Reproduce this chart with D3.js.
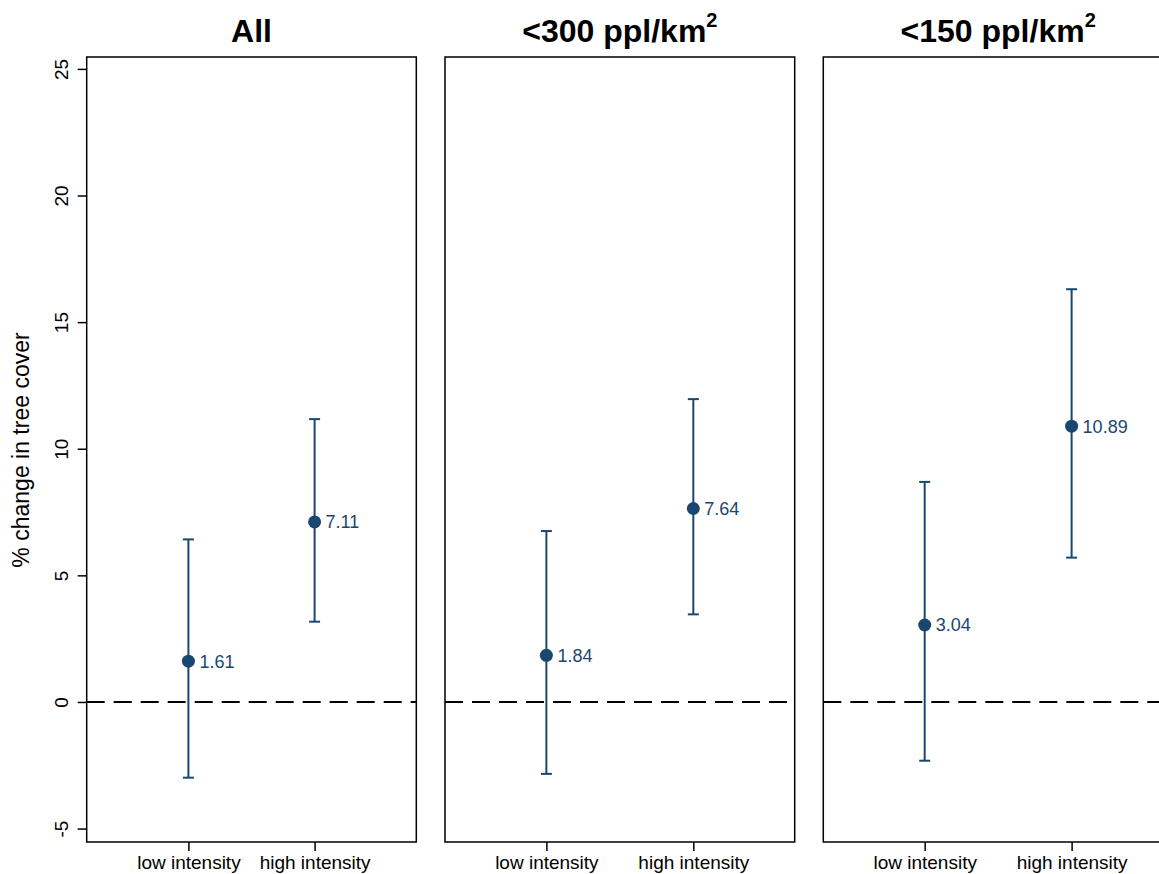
<!DOCTYPE html>
<html>
<head>
<meta charset="utf-8">
<script src="https://cdn.jsdelivr.net/npm/d3@7"></script>
<style>
  html, body { margin: 0; padding: 0; background: #fff; }
  svg { display: block; font-family: "Liberation Sans", Arial, sans-serif; }
</style>
</head>
<body>
<svg id="chart" width="1159" height="874"></svg>
<script>
// Treatment effect estimates with 95% confidence intervals, by population-density subsample
const categories = ["low intensity", "high intensity"];
const panelNames = ["All", "<300 ppl/km", "<150 ppl/km"];
const panelSuper = ["", "2", "2"];
const estimates = [[1.61, 7.11], [1.84, 7.64], [3.04, 10.89]];
const ciLower = [[-2.99, 3.17], [-2.84, 3.46], [-2.32, 5.70]];
const ciUpper = [[6.42, 11.17], [6.75, 11.96], [8.69, 16.30]];
const yTicks = [-5, 0, 5, 10, 15, 20, 25];
const yTitle = "% change in tree cover";

// Layout of the three panels (left edge, width, outer padding of the category scale)
const panelLeft = [86.7, 445, 823.3];
const panelWidth = [329.6, 349.7, 349.7];
const panelPad = [0.806, 0.69, 0.69];
const plotTop = 57, plotBottom = 842;

const navy = "#1a476f";
const svg = d3.select("#chart");

const y = d3.scaleLinear().domain([-5.53, 25.47]).range([plotBottom, plotTop]);

panelNames.forEach((name, i) => {
  const left = panelLeft[i], right = left + panelWidth[i];
  const x = d3.scalePoint().domain(categories).range([left, right]).padding(panelPad[i]);
  const g = svg.append("g");

  // zero reference line
  g.append("line")
    .attr("x1", left).attr("x2", right)
    .attr("y1", y(0)).attr("y2", y(0))
    .attr("stroke", "#000").attr("stroke-width", 2)
    .attr("stroke-dasharray", "18,9");

  // x axis with category ticks
  const xAxis = g.append("g")
    .attr("transform", `translate(0,${plotBottom})`)
    .call(d3.axisBottom(x).tickSize(9).tickPadding(4.5).tickSizeOuter(0));
  xAxis.select(".domain").remove();
  xAxis.selectAll(".tick line").attr("stroke", "#000").attr("stroke-width", 1.5);
  xAxis.selectAll(".tick text")
    .attr("fill", "#000").style("font-size", "19px")
    .style("font-family", "'Liberation Sans', Arial, sans-serif");

  // y axis on the first panel only
  if (i === 0) {
    const yAxis = g.append("g")
      .attr("transform", `translate(${left},0)`)
      .call(d3.axisLeft(y).tickValues(yTicks).tickSize(9).tickSizeOuter(0).tickFormat(d => String(d)));
    yAxis.select(".domain").remove();
    yAxis.selectAll(".tick line").attr("stroke", "#000").attr("stroke-width", 1.5);
    yAxis.selectAll(".tick text")
      .attr("x", null).attr("dy", null)
      .attr("transform", "translate(-18.5,0) rotate(-90)")
      .attr("text-anchor", "middle")
      .attr("fill", "#000").style("font-size", "19px")
      .style("font-family", "'Liberation Sans', Arial, sans-serif");

    svg.append("text")
      .attr("transform", `translate(29,450) rotate(-90)`)
      .attr("text-anchor", "middle")
      .style("font-size", "23px")
      .attr("fill", "#000")
      .text(yTitle);
  }

  // confidence intervals
  const rows = categories.map((c, j) => ({
    cat: c, est: estimates[i][j], lo: ciLower[i][j], hi: ciUpper[i][j]
  }));
  const capHalf = 5.5;
  const bars = g.selectAll(".ci").data(rows).enter().append("g").attr("class", "ci")
    .attr("stroke", navy).attr("stroke-width", 2);
  bars.append("line")
    .attr("x1", d => x(d.cat)).attr("x2", d => x(d.cat))
    .attr("y1", d => y(d.lo)).attr("y2", d => y(d.hi));
  bars.append("line")
    .attr("x1", d => x(d.cat) - capHalf).attr("x2", d => x(d.cat) + capHalf)
    .attr("y1", d => y(d.lo)).attr("y2", d => y(d.lo));
  bars.append("line")
    .attr("x1", d => x(d.cat) - capHalf).attr("x2", d => x(d.cat) + capHalf)
    .attr("y1", d => y(d.hi)).attr("y2", d => y(d.hi));

  // point estimates and their labels
  g.selectAll(".pt").data(rows).enter().append("circle")
    .attr("cx", d => x(d.cat)).attr("cy", d => y(d.est))
    .attr("r", 6.5).attr("fill", navy);
  g.selectAll(".lbl").data(rows).enter().append("text")
    .attr("x", d => x(d.cat) + 11).attr("y", d => y(d.est))
    .attr("dy", "0.36em")
    .attr("fill", navy).style("font-size", "18px")
    .text(d => d3.format(".2f")(d.est));

  // panel frame
  g.append("rect")
    .attr("x", left).attr("y", plotTop)
    .attr("width", right - left).attr("height", plotBottom - plotTop)
    .attr("fill", "none").attr("stroke", "#000").attr("stroke-width", 1.5);

  // panel title
  const t = g.append("text")
    .attr("x", (left + right) / 2).attr("y", 42)
    .attr("text-anchor", "middle")
    .style("font-size", "32px").style("font-weight", "bold")
    .attr("fill", "#000");
  t.append("tspan").text(name);
  if (panelSuper[i]) {
    t.append("tspan").attr("dy", -15).style("font-size", "20px").text(panelSuper[i]);
  }
});
</script>
</body>
</html>
